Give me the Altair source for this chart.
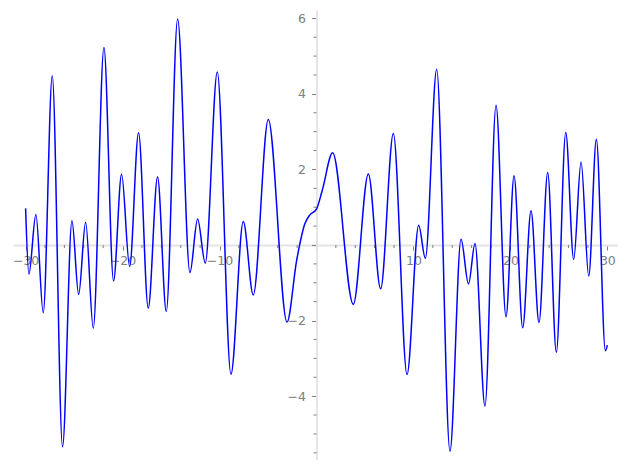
import altair as alt
import pandas as pd

# Curve samples (local extrema and a few shoulder points)
xs = [-30.0, -29.66, -28.94, -28.18, -27.25, -26.19, -25.22, -24.53, -23.81, -23.02,
      -21.92, -20.93, -20.10, -19.27, -18.35, -17.35, -16.39, -15.49, -14.32, -13.05,
      -12.26, -11.47, -10.23, -8.82, -7.55, -6.52, -4.97, -3.04, -2.04, -1.20,
      -0.70, 0.0, 0.60, 1.67, 3.80, 5.35, 6.62, 7.93, 9.34, 10.54,
      11.23, 12.40, 13.77, 14.91, 15.68, 16.35, 17.38, 18.52, 19.55, 20.38,
      21.27, 22.13, 22.95, 23.85, 24.74, 25.71, 26.53, 27.29, 28.08, 28.87,
      29.80, 30.0]
ys = [0.97, -0.77, 0.81, -1.79, 4.48, -5.34, 0.64, -1.31, 0.60, -2.20,
      5.23, -0.95, 1.87, -0.57, 2.97, -1.67, 1.80, -1.76, 5.98, -0.73,
      0.69, -0.48, 4.58, -3.42, 0.62, -1.32, 3.32, -2.04, -0.40, 0.56,
      0.79, 0.95, 1.45, 2.44, -1.57, 1.88, -1.16, 2.95, -3.43, 0.52,
      -0.35, 4.65, -5.46, 0.15, -1.03, 0.04, -4.26, 3.70, -1.90, 1.83,
      -2.19, 0.91, -2.05, 1.92, -2.84, 2.98, -0.38, 2.20, -0.82, 2.80,
      -2.80, -2.65]

x_major = [-30, -20, -10, 0, 10, 20, 30]
x_minor = [-28, -26, -24, -22, -18, -16, -14, -12, -8, -6, -4, -2,
           2, 4, 6, 8, 12, 14, 16, 18, 22, 24, 26, 28]
y_major = [-4, -2, 0, 2, 4, 6]
y_minor = [-5.5, -5, -4.5, -3.5, -3, -2.5, -1.5, -1, -0.5, 0.5, 1, 1.5,
           2.5, 3, 3.5, 4.5, 5, 5.5]

X_DOM = [-31.3, 31.1]
Y_DOM = [-5.69, 6.22]
W, H = 605, 450

# offsets that move each axis onto the other variable's zero
yaxis_off = -(0 - X_DOM[0]) / (X_DOM[1] - X_DOM[0]) * W
xaxis_off = -(0 - Y_DOM[0]) / (Y_DOM[1] - Y_DOM[0]) * H

curve = pd.DataFrame({"x": xs, "y": ys})
xmin_df = pd.DataFrame({"v": x_minor})
ymin_df = pd.DataFrame({"v": y_minor})

FONT = "DejaVu Sans"
GRAY = "#808080"

xscale = alt.Scale(domain=X_DOM, nice=False, zero=False)
yscale = alt.Scale(domain=Y_DOM, nice=False, zero=False)

xaxis = alt.Axis(values=x_major, offset=xaxis_off, title=None, grid=False,
                 domainColor="#e4e4e4", domainWidth=1.8,
                 tickColor=GRAY, tickSize=5, tickWidth=1,
                 labelColor=GRAY, labelFont=FONT, labelFontSize=12.5,
                 labelPadding=4, labelFlush=False, labelOverlap=False,
                 labelExpr="datum.value == 0 ? '' : format(datum.value, 'd')")
yaxis = alt.Axis(values=y_major, offset=yaxis_off, title=None, grid=False,
                 domainColor="#e4e4e4", domainWidth=1.8,
                 tickColor=GRAY, tickSize=5, tickWidth=1,
                 labelColor=GRAY, labelFont=FONT, labelFontSize=12.5,
                 labelPadding=6, labelFlush=False, labelOverlap=False,
                 labelExpr="datum.value == 0 ? '' : format(datum.value, 'd')")

line = alt.Chart(curve).mark_line(color="#0000ff", strokeWidth=1.5,
                                   interpolate="monotone").encode(
    x=alt.X("x:Q", scale=xscale, axis=xaxis),
    y=alt.Y("y:Q", scale=yscale, axis=yaxis),
)

xminor = alt.Chart(xmin_df).mark_rule(color=GRAY, strokeWidth=1, y2Offset=3).encode(
    x=alt.X("v:Q", scale=xscale),
    y=alt.datum(0),
    y2=alt.datum(0),
)
yminor = alt.Chart(ymin_df).mark_rule(color=GRAY, strokeWidth=1, x2Offset=-3).encode(
    y=alt.Y("v:Q", scale=yscale),
    x=alt.datum(0),
    x2=alt.datum(0),
)

chart = alt.layer(xminor, yminor, line).properties(
    width=W, height=H,
    padding={"left": 5, "top": 2, "right": 0, "bottom": 0},
    autosize=alt.AutoSizeParams(type="none"),
).configure_view(stroke=None)

chart.save("out.html", embed_options={"renderer": "svg", "actions": False})
